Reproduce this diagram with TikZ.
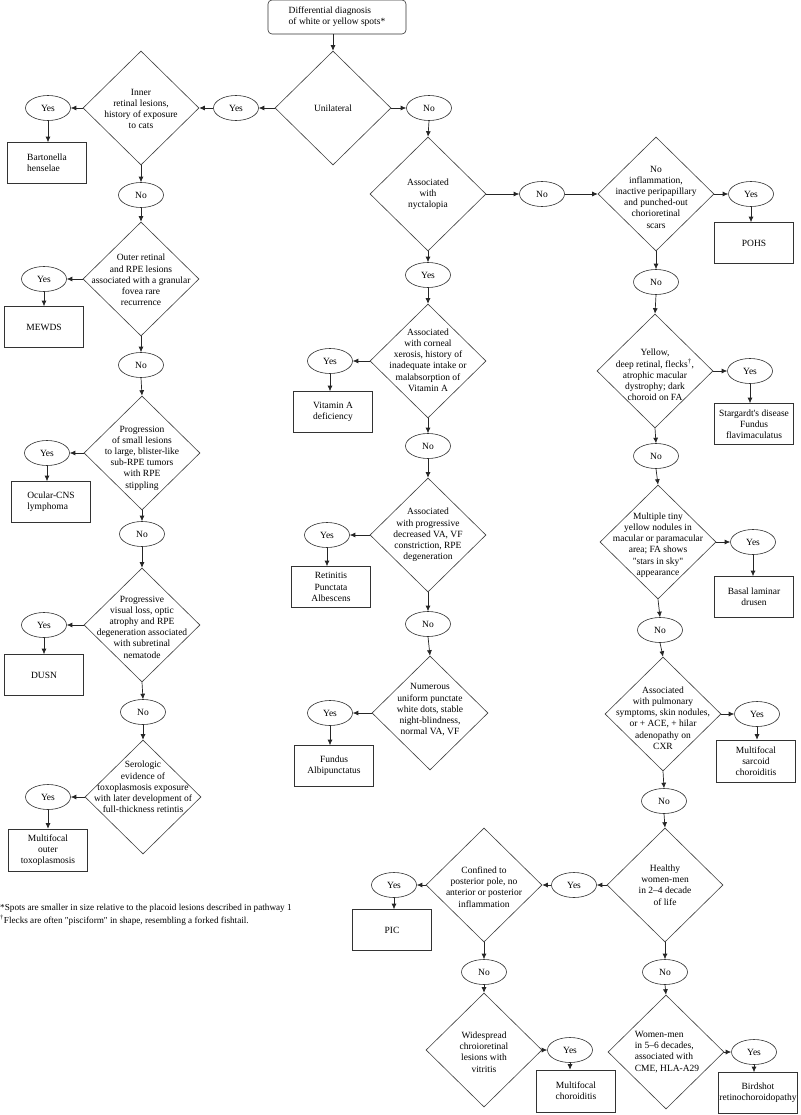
\documentclass[tikz,border=0pt]{standalone}
\usepackage{fontspec}
\setmainfont{Liberation Serif}
\newfontfamily\nomap{Liberation Serif}
\usetikzlibrary{shapes.geometric,arrows.meta}
\newcommand{\dfont}{\fontsize{9.5}{11.2}\selectfont}
\newcommand{\ffont}{\fontsize{9.2}{11}\selectfont}
\newcommand{\sq}{{\nomap "}}
\newcommand{\ap}{{\nomap '}}
\begin{document}
\begin{tikzpicture}[x=1pt,y=-1pt,
  dia/.style={diamond,draw=black!75,line width=0.6pt,minimum width=116pt,minimum height=114pt,inner sep=0pt},
  dtext/.style={font=\dfont,align=center,inner sep=0pt},
  yn/.style={ellipse,draw=black!80,line width=0.6pt,minimum width=45pt,minimum height=25pt,inner sep=0pt,font=\dfont},
  res/.style={rectangle,draw=black!80,line width=0.6pt,minimum width=79pt,minimum height=41pt,inner sep=1pt,font=\dfont,align=center},
  arr/.style={-{Latex[length=5.5pt,width=5pt]},line width=0.7pt,black!85}]
\useasboundingbox (0,0) rectangle (800,1115);
\fill[white] (0,0) rectangle (800,1115);

% top
\node[rectangle,rounded corners=4pt,draw=black!80,line width=0.6pt,minimum width=138pt,minimum height=34pt,font=\dfont,align=left] (t0) at (337,17) {Differential diagnosis\\of white or yellow spots*};

% diamonds
\node[dia] (d0) at (333,108) {};
\node[dtext] (d0t) at (333,108) {Unilateral};
\node[dia] (d1) at (141,108) {};
\node[dtext] (d1t) at (141,109) {Inner\\retinal lesions,\\history of exposure\\to cats};
\node[dia] (d2) at (141,279) {};
\node[dtext] (d2t) at (141,280) {Outer retinal\\and RPE lesions\\associated with a granular\\fovea rare\\recurrence};
\node[dia] (d3) at (142,453) {};
\node[dtext] (d3t) at (142,458) {Progression\\of small lesions\\to large, blister-like\\sub-RPE tumors\\with RPE\\stippling};
\node[dia] (d4) at (142,625) {};
\node[dtext] (d4t) at (142,627) {Progressive\\visual loss, optic\\atrophy and RPE\\degeneration associated\\with subretinal\\nematode};
\node[dia] (d5) at (143,797) {};
\node[dtext] (d5t) at (143,787) {Serologic\\evidence of\\toxoplasmosis exposure\\with later development of\\full-thickness retintis};

\node[dia] (d6) at (428,194) {};
\node[dtext] (d6t) at (428,194) {Associated\\with\\nyctalopia};
\node[dia] (d7) at (428,361) {};
\node[dtext] (d7t) at (428,360) {Associated\\with corneal\\xerosis, history of\\inadequate intake or\\malabsorption of\\Vitamin A};
\node[dia] (d8) at (428,535) {};
\node[dtext] (d8t) at (428,535) {Associated\\with progressive\\decreased VA, VF\\constriction, RPE\\degeneration};
\node[dia] (d9) at (430,713) {};
\node[dtext] (d9t) at (430,710) {Numerous\\uniform punctate\\white dots, stable\\night-blindness,\\normal VA, VF};

\node[dia] (d10) at (656,194) {};
\node[dtext] (d10t) at (656,197) {No\\inflammation,\\inactive peripapillary\\and punched-out\\chorioretinal\\scars};
\node[dia] (d11) at (655,371) {};
\node[dtext] (d11t) at (655,375) {Yellow,\\deep retinal, flecks\textsuperscript{†},\\atrophic macular\\dystrophy; dark\\choroid on FA};
\node[dia] (d12) at (658,542) {};
\node[dtext] (d12t) at (658,545) {Multiple tiny\\yellow nodules in\\macular or paramacular\\area; FA shows\\\sq stars in sky\sq\\appearance};
\node[dia] (d13) at (663,714) {};
\node[dtext] (d13t) at (663,718) {Associated\\with pulmonary\\symptoms, skin nodules,\\or + ACE, + hilar\\adenopathy on\\CXR};
\node[dia] (d14) at (665,885) {};
\node[dtext] (d14t) at (665,885) {Healthy\\women-men\\in 2--4 decade\\of life};
\node[dia] (d15) at (484,885) {};
\node[dtext] (d15t) at (484,887) {Confined to\\posterior pole, no\\anterior or posterior\\inflammation};
\node[dia] (d16) at (484,1050) {};
\node[dtext] (d16t) at (484,1052) {Widespread\\chroioretinal\\lesions with\\vitritis};
\node[dia] (d17) at (666,1052) {};
\node[dtext,align=left] (d17t) at (667,1052) {Women-men\\in 5--6 decades,\\associated with\\CME, HLA-A29};

% ellipses
\node[yn] (y0) at (236,108) {Yes};
\node[yn] (n0) at (429,108) {No};
\node[yn] (y1) at (48,108) {Yes};
\node[yn] (n1) at (141,195) {No};
\node[yn] (y2) at (44,279) {Yes};
\node[yn] (n2) at (141,365) {No};
\node[yn] (y3) at (47,453) {Yes};
\node[yn] (n3) at (142,534) {No};
\node[yn] (y4) at (44,625) {Yes};
\node[yn] (n4) at (143,712) {No};
\node[yn] (y5) at (48,797) {Yes};

\node[yn] (y6) at (428,275) {Yes};
\node[yn] (n6) at (542,194) {No};
\node[yn] (y7) at (330,361) {Yes};
\node[yn] (n7) at (428,446) {No};
\node[yn] (y8) at (327,535) {Yes};
\node[yn] (n8) at (428,624) {No};
\node[yn] (y9) at (330,713) {Yes};

\node[yn] (y10) at (751,194) {Yes};
\node[yn] (n10) at (656,282) {No};
\node[yn] (y11) at (750,371) {Yes};
\node[yn] (n11) at (656,456) {No};
\node[yn] (y12) at (753,542) {Yes};
\node[yn] (n12) at (660,630) {No};
\node[yn] (y13) at (757,714) {Yes};
\node[yn] (n13) at (664,801) {No};
\node[yn] (y14) at (574,885) {Yes};
\node[yn] (n14) at (665,972) {No};
\node[yn] (y15) at (394,885) {Yes};
\node[yn] (n15) at (484,972) {No};
\node[yn] (y16) at (570,1050) {Yes};
\node[yn] (y17) at (754,1052) {Yes};

% result boxes
\node[res,align=left] (b1) at (47,163) {Bartonella\\henselae};
\node[res] (b2) at (44,327) {MEWDS};
\node[res,align=left] (b3) at (51,502) {Ocular-CNS\\lymphoma};
\node[res] (b4) at (44,675) {DUSN};
\node[res,minimum height=42pt] (b5) at (48,850) {Multifocal\\outer\\toxoplasmosis};
\node[res] (b7) at (333,412) {Vitamin A\\deficiency};
\node[res] (b8) at (331,587) {Retinitis\\Punctata\\Albescens};
\node[res] (b9) at (334,766) {Fundus\\Albipunctatus};
\node[res] (b10) at (754,243) {POHS};
\node[res] (b11) at (754,424) {Stargardt\ap s disease\\Fundus\\flavimaculatus};
\node[res] (b12) at (754,597) {Basal laminar\\drusen};
\node[res,minimum height=42pt] (b13) at (756,761) {Multifocal\\sarcoid\\choroiditis};
\node[res] (b15) at (392,930) {PIC};
\node[res,minimum height=42pt] (b16) at (576,1091) {Multifocal\\choroiditis};
\node[res] (b17) at (758,1093) {Birdshot\\retinochoroidopathy};

% footnotes
\node[font=\ffont,anchor=west,inner sep=0pt] (f1) at (0,908) {*Spots are smaller in size relative to the placoid lesions described in pathway 1};
\node[font=\ffont,anchor=west,inner sep=0pt] (f2) at (0,920) {\textsuperscript{†}Flecks are often \sq pisciform\sq{} in shape, resembling a forked fishtail.};

% connectors
\draw[arr] (d0.north |- t0.south) -- (d0.north);
\draw[arr] (d0.west) -- (y0.east);
\draw[arr] (y0.west) -- (d1.east);
\draw[arr] (d1.west) -- (y1.east);
\draw[arr] (y1.south) -- (y1.south |- b1.north);
\draw[arr] (d1.south) -- (n1.north);
\draw[arr] (n1.south) -- (d2.north);
\draw[arr] (d2.west) -- (y2.east);
\draw[arr] (y2.south) -- (y2.south |- b2.north);
\draw[arr] (d2.south) -- (n2.north);
\draw[arr] (n2.south) -- (d3.north);
\draw[arr] (d3.west) -- (y3.east);
\draw[arr] (y3.south) -- (y3.south |- b3.north);
\draw[arr] (d3.south) -- (n3.north);
\draw[arr] (n3.south) -- (d4.north);
\draw[arr] (d4.west) -- (y4.east);
\draw[arr] (y4.south) -- (y4.south |- b4.north);
\draw[arr] (d4.south) -- (n4.north);
\draw[arr] (n4.south) -- (d5.north);
\draw[arr] (d5.west) -- (y5.east);
\draw[arr] (y5.south) -- (y5.south |- b5.north);

\draw[arr] (d0.east) -- (n0.west);
\draw[arr] (n0.south) -- (d6.north);
\draw[arr] (d6.east) -- (n6.west);
\draw[arr] (n6.east) -- (d10.west);
\draw[arr] (d6.south) -- (y6.north);
\draw[arr] (y6.south) -- (d7.north);
\draw[arr] (d7.west) -- (y7.east);
\draw[arr] (y7.south) -- (y7.south |- b7.north);
\draw[arr] (d7.south) -- (n7.north);
\draw[arr] (n7.south) -- (d8.north);
\draw[arr] (d8.west) -- (y8.east);
\draw[arr] (y8.south) -- (y8.south |- b8.north);
\draw[arr] (d8.south) -- (n8.north);
\draw[arr] (n8.south) -- (d9.north);
\draw[arr] (d9.west) -- (y9.east);
\draw[arr] (y9.south) -- (y9.south |- b9.north);

\draw[arr] (d10.east) -- (y10.west);
\draw[arr] (y10.south) -- (y10.south |- b10.north);
\draw[arr] (d10.south) -- (n10.north);
\draw[arr] (n10.south) -- (d11.north);
\draw[arr] (d11.east) -- (y11.west);
\draw[arr] (y11.south) -- (y11.south |- b11.north);
\draw[arr] (d11.south) -- (n11.north);
\draw[arr] (n11.south) -- (d12.north);
\draw[arr] (d12.east) -- (y12.west);
\draw[arr] (y12.south) -- (y12.south |- b12.north);
\draw[arr] (d12.south) -- (n12.north);
\draw[arr] (n12.south) -- (d13.north);
\draw[arr] (d13.east) -- (y13.west);
\draw[arr] (y13.south) -- (y13.south |- b13.north);
\draw[arr] (d13.south) -- (n13.north);
\draw[arr] (n13.south) -- (d14.north);
\draw[arr] (d14.west) -- (y14.east);
\draw[arr] (y14.west) -- (d15.east);
\draw[arr] (d15.west) -- (y15.east);
\draw[arr] (y15.south) -- (y15.south |- b15.north);
\draw[arr] (d15.south) -- (n15.north);
\draw[arr] (n15.south) -- (d16.north);
\draw[arr] (d16.east) -- (y16.west);
\draw[arr] (y16.south) -- (y16.south |- b16.north);
\draw[arr] (d14.south) -- (n14.north);
\draw[arr] (n14.south) -- (d17.north);
\draw[arr] (d17.east) -- (y17.west);
\draw[arr] (y17.south) -- (y17.south |- b17.north);
\end{tikzpicture}
\end{document}
